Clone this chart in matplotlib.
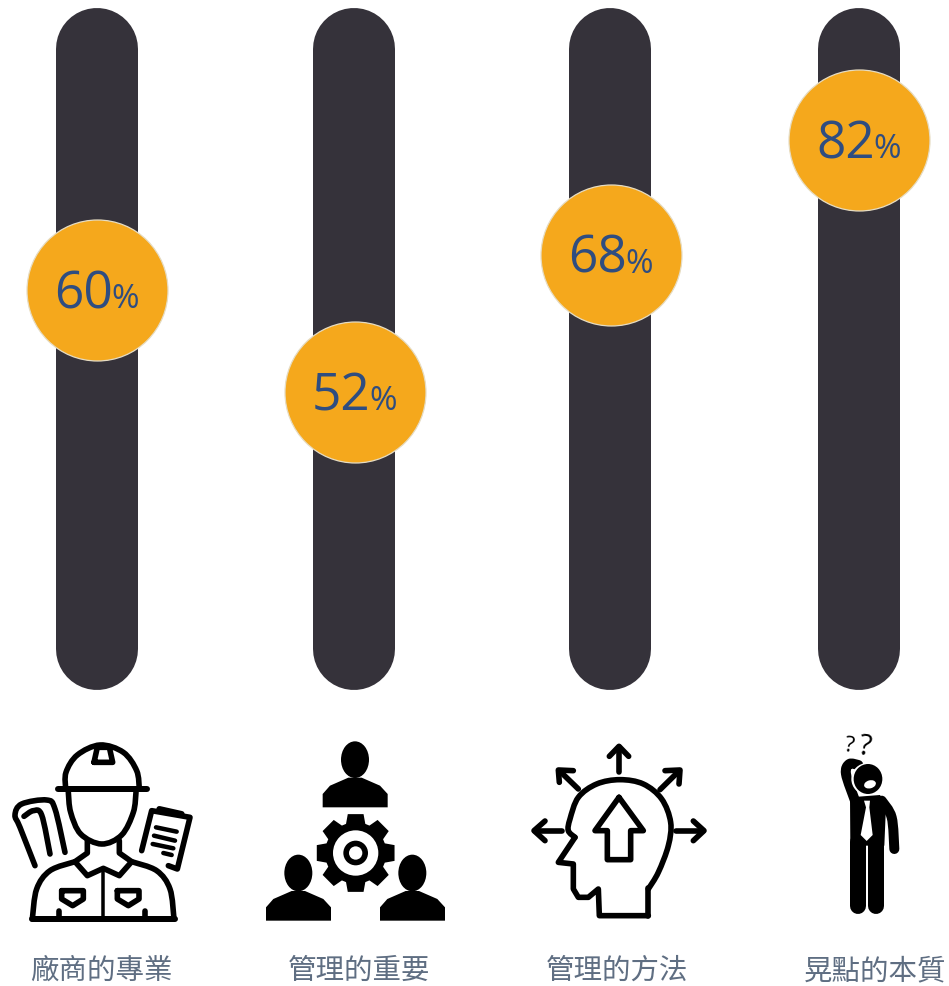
import numpy as np
import matplotlib as mpl
mpl.use("Agg")
import matplotlib.pyplot as plt
from matplotlib.path import Path
from matplotlib.patches import PathPatch, Ellipse, Polygon

plt.rcParams["font.family"] = ["Noto Sans CJK TC", "DejaVu Sans"]

labels = ["廠商的專業", "管理的重要", "管理的方法", "晃點的本質"]
values = [60, 52, 68, 82]

# slider layout, in pixels
W, H = 949, 987
TRACK_X = [97, 354, 610, 859]
KNOB_X = [97, 355, 611, 859]
LABEL_X = [101, 359, 617, 875]
TRACK_W = 82
KNOB_R = 70.5
TRACK_TOP, TRACK_BOT = 9, 691

DARK = "#35323a"
GOLD = "#f5a81c"
BLUE = "#2f4d80"
GREY = "#5f6e82"
PX = 72 / 100  # points per pixel

# the sliders are not evenly graduated, the axis is piecewise linear
scale_v = [0, 52, 60, 68, 82, 100]
scale_f = [0, 0.428, 0.598, 0.657, 0.848, 1]


def forward(v):
    return np.interp(v, scale_v, scale_f)


def inverse(f):
    return np.interp(f, scale_f, scale_v)


fig = plt.figure(figsize=(W / 100, H / 100), dpi=100, facecolor="white")

# pixel axes for the icons and captions
ax = fig.add_axes([0, 0, 1, 1])
ax.set_xlim(0, W)
ax.set_ylim(H, 0)
ax.axis("off")

# slider axes, covers the straight part of the tracks
inner_top = TRACK_TOP + TRACK_W / 2
inner_bot = TRACK_BOT - TRACK_W / 2
sax = fig.add_axes([0, 1 - inner_bot / H, 1, (inner_bot - inner_top) / H])
sax.set_xlim(0, W)
sax.set_yscale("function", functions=(forward, inverse))
sax.set_ylim(0, 100)
sax.axis("off")
sax.patch.set_alpha(0)

for tx, kx, v in zip(TRACK_X, KNOB_X, values):
    sax.plot([tx, tx], [0, 100], color=DARK, lw=TRACK_W * PX,
             solid_capstyle="round", clip_on=False, zorder=1)
    sax.scatter([kx], [v], s=(2 * KNOB_R * PX) ** 2, color=GOLD,
                edgecolor="#e6dcc2", linewidth=0.9, zorder=2, clip_on=False)
    sax.annotate(f"{v}", (kx, v), xytext=(-43, -17), textcoords="offset pixels",
                 fontsize=37, family="Open Sans", color=BLUE, ha="left", va="baseline", zorder=3)
    sax.annotate("%", (kx, v), xytext=(14, -17), textcoords="offset pixels",
                 fontsize=24, family="Open Sans", color=BLUE, ha="left", va="baseline", zorder=3)

for lx, lab in zip(LABEL_X, labels):
    ax.text(lx, 971, lab, fontsize=20.5, color=GREY, ha="center", va="center")


# ---- icon helpers, coordinates are 3x pixels around an origin ----
def to_px(pts, org):
    return [(x / 3 + org[0], y / 3 + org[1]) for x, y in pts]


def smooth_path(pts):
    # catmull-rom through the points
    p = [pts[0]] + list(pts) + [pts[-1]]
    verts = [pts[0]]
    codes = [Path.MOVETO]
    for i in range(1, len(p) - 2):
        p0, p1, p2, p3 = map(np.array, (p[i - 1], p[i], p[i + 1], p[i + 2]))
        verts += [tuple(p1 + (p2 - p0) / 6), tuple(p2 - (p3 - p1) / 6), tuple(p2)]
        codes += [Path.CURVE4] * 3
    return Path(verts, codes)


def line(pts, org, lw=5.6, smooth=False, closed=False, color="black"):
    pts = to_px(pts, org)
    if closed:
        pts = pts + [pts[0]]
    path = smooth_path(pts) if smooth else Path(pts)
    ax.add_patch(PathPatch(path, fill=False, edgecolor=color, lw=lw * PX,
                           capstyle="round", joinstyle="round"))


def fill(pts, org, color="black"):
    ax.add_patch(Polygon(to_px(pts, org), closed=True, facecolor=color, edgecolor="none"))


def oval(c, rx, ry, org, color="black", angle=0):
    cx, cy = to_px([c], org)[0]
    ax.add_patch(Ellipse((cx, cy), 2 * rx / 3, 2 * ry / 3, angle=angle, facecolor=color, edgecolor="none"))


# engineer
org = (0, 730)
line([(197, 180), (198, 130), (232, 78), (300, 48), (370, 70), (410, 125), (418, 180)], org, smooth=True)
line([(175, 180), (440, 180)], org, lw=6)
line([(282, 100), (292, 55), (328, 55), (338, 100)], org, closed=True)
line([(205, 190), (212, 250), (242, 315), (305, 345), (365, 318), (400, 250), (408, 190)], org, smooth=True)
line([(262, 335), (262, 372), (225, 398), (262, 440), (310, 418), (358, 440), (395, 398), (358, 372), (358, 335)], org)
line([(97, 570), (110, 480), (150, 425), (225, 398)], org, smooth=True)
line([(522, 570), (510, 480), (470, 425), (395, 398)], org, smooth=True)
line([(95, 570), (525, 570)], org, lw=6)
line([(310, 425), (310, 570)], org, lw=3.5)
line([(185, 485), (250, 485), (250, 510), (218, 530), (185, 510)], org, closed=True)
line([(352, 485), (417, 485), (417, 510), (385, 530), (352, 510)], org, closed=True)
line([(178, 545), (178, 570)], org)
line([(435, 545), (435, 570)], org)
line([(105, 410), (60, 295), (45, 258), (65, 225), (140, 213), (165, 240), (195, 370)], org, smooth=True)
line([(150, 375), (125, 258), (100, 245), (72, 262)], org, smooth=True)
line([(425, 365), (455, 245), (570, 265), (532, 420), (505, 410)], org)
line([(478, 240), (545, 255)], org, lw=6)
for seg in [[(468, 295), (530, 308)], [(462, 320), (525, 335)], [(458, 345), (520, 358)], [(490, 372), (515, 378)]]:
    line(seg, org, lw=4.5)

# team around a gear
org = (250, 730)
body = [(218, 235), (218, 195), (240, 170), (295, 146), (335, 146), (390, 170), (413, 195), (413, 235)]
for dx, dy in [(0, 0), (-170, 340), (172, 340)]:
    oval((315 + dx, 92 + dy), 42, 55, org)
    fill([(x + dx, y + dy) for x, y in body], org)

gear_c = (317, 372)
n_teeth = 8
gear = []
for i in range(n_teeth):
    a = 2 * np.pi * i / n_teeth - np.pi / 2
    for da, r in [(-0.32, 92), (-0.2, 119), (0.2, 119), (0.32, 92)]:
        gear.append((gear_c[0] + r * np.cos(a + da), gear_c[1] + r * np.sin(a + da)))
fill(gear, org)
oval(gear_c, 68, 68, org, color="white")
oval(gear_c, 37, 37, org)
oval(gear_c, 20, 20, org, color="white")

# head with arrows
org = (520, 730)
line([(385, 560), (238, 560), (235, 480), (205, 505), (175, 505), (160, 480), (160, 405), (115, 400), (165, 325)], org)
line([(165, 325), (145, 305), (150, 270), (175, 205), (230, 165), (300, 152), (370, 165), (425, 210),
      (452, 280), (445, 350), (415, 430), (385, 480)], org, smooth=True)
line([(385, 478), (385, 560)], org)
line([(297, 205), (225, 305), (262, 305), (262, 392), (332, 392), (332, 305), (370, 305)], org, closed=True)
for seg, hd in [([(297, 130), (297, 55)], [(268, 82), (297, 52), (326, 82)]),
                ([(175, 180), (118, 125)], [(118, 160), (115, 123), (160, 125)]),
                ([(420, 182), (478, 125)], [(435, 125), (480, 123), (477, 165)]),
                ([(125, 305), (45, 305)], [(75, 276), (42, 305), (75, 335)]),
                ([(468, 305), (548, 305)], [(520, 276), (552, 305), (520, 335)])]:
    line(seg, org)
    line(hd, org)

# puzzled man
org = (790, 730)
line([(205, 108), (178, 105), (168, 135), (195, 215)], org, lw=10, smooth=True)
oval((232, 150), 48, 48, org, color="white")
oval((234, 150), 43, 45, org)
oval((240, 166), 18, 12, org, color="white", angle=-15)
fill([(180, 205), (270, 198), (288, 230), (283, 350), (181, 350)], org)
line([(275, 215), (305, 265), (313, 360)], org, lw=10, smooth=True)
line([(205, 340), (205, 530)], org, lw=16)
line([(258, 340), (258, 530)], org, lw=16)
line([(231, 355), (231, 548)], org, lw=1.5, color="white")
fill([(222, 215), (240, 215), (238, 235), (248, 318), (230, 336), (212, 318), (228, 235)], org, color="white")
for (qx, qy), fs, rot in [((178, 48), 16, -8), ((225, 52), 21, -8)]:
    x, y = to_px([(qx, qy)], org)[0]
    ax.text(x, y, "?", fontsize=fs, color="black", ha="center", va="center", rotation=rot, family="Open Sans")

fig.savefig("out.png", dpi=100)
plt.close(fig)
